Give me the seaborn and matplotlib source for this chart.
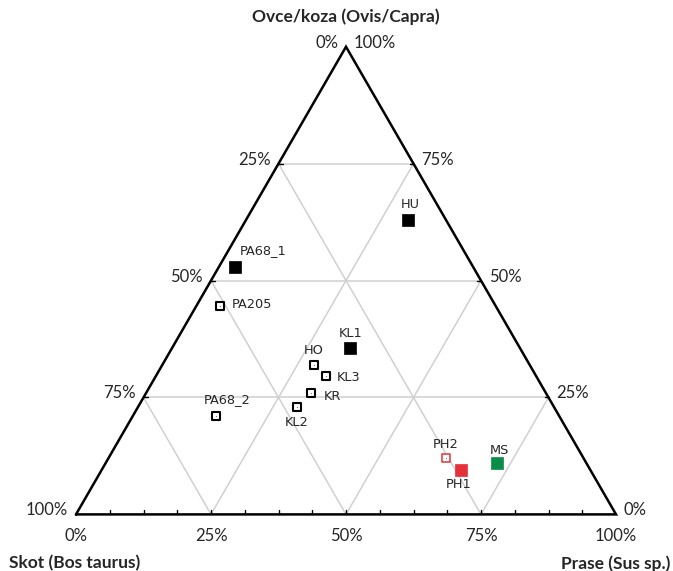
import numpy as np
import pandas as pd
import matplotlib
matplotlib.use('Agg')
import matplotlib.pyplot as plt
import seaborn as sns

# --- data: fractions of cattle / sheep-goat / pig per site ---
sites = ['HU', 'PA68_1', 'PA205', 'KL1', 'HO', 'KL3', 'KR', 'KL2', 'PA68_2', 'PH2', 'PH1', 'MS']
skot = [0.07, 0.44, 0.51, 0.315, 0.40, 0.39, 0.435, 0.475, 0.635, 0.255, 0.24, 0.165]
ovce = [0.63, 0.53, 0.445, 0.355, 0.32, 0.295, 0.26, 0.23, 0.21, 0.12, 0.095, 0.11]
prase = [0.30, 0.03, 0.045, 0.33, 0.28, 0.315, 0.305, 0.295, 0.155, 0.625, 0.665, 0.725]
groups = ['filled', 'filled', 'open', 'filled', 'open', 'open', 'open', 'open', 'open',
          'red_open', 'red', 'green']

ticks = [0, 0.25, 0.5, 0.75, 1.0]
tick_labels = ['0%', '25%', '50%', '75%', '100%']

# label offsets in pixels (dx, dy, ha) relative to marker
label_pos = {
    'HU': (2, 15, 'center'), 'PA68_1': (4, 16, 'left'), 'PA205': (11, 2, 'left'),
    'KL1': (1, 15, 'center'), 'HO': (0, 14, 'center'), 'KL3': (11, -1, 'left'),
    'KR': (13, -4, 'left'), 'KL2': (-1, -16, 'center'), 'PA68_2': (11, 17, 'center'),
    'PH2': (0, 14, 'center'), 'PH1': (-2, -15, 'center'), 'MS': (2, 12, 'center'),
}

H = np.sqrt(3) / 2


def to_xy(p, s):
    p = np.asarray(p, dtype=float)
    s = np.asarray(s, dtype=float)
    return p + s / 2, s * H


df = pd.DataFrame({'site': sites, 'skot': skot, 'ovce': ovce, 'prase': prase, 'group': groups})
df['x'], df['y'] = to_xy(df['prase'], df['ovce'])

sns.set_style('white')
plt.rcParams['font.family'] = ['Lato', 'DejaVu Sans']

fig = plt.figure(figsize=(6.73, 5.71), dpi=100)
ax = fig.add_axes([0, 0, 1, 1])
scale = 540.0
ax.set_xlim(-76 / scale, (673 - 76) / scale)
ax.set_ylim(-56.6 / scale, (571 - 56.6) / scale)
ax.axis('off')

# grid lines
grid_c = '#d0d0d0'
for k in [0.25, 0.5, 0.75]:
    # constant sheep
    x, y = to_xy([0, 1 - k], [k, k])
    ax.plot(x, y, color=grid_c, lw=1.1, zorder=1)
    # constant pig
    x, y = to_xy([k, k], [0, 1 - k])
    ax.plot(x, y, color=grid_c, lw=1.1, zorder=1)
    # constant cattle
    x, y = to_xy([1 - k, 0], [0, 1 - k])
    ax.plot(x, y, color=grid_c, lw=1.1, zorder=1)

# triangle
tx, ty = to_xy([0, 1, 0, 0], [0, 0, 1, 0])
ax.plot(tx, ty, color='black', lw=1.8, zorder=2, solid_joinstyle='miter')

# bottom ticks (major + minor)
tl = 4 / scale
for v in np.arange(0, 1.0001, 0.0625):
    if 0 < v < 1:
        ax.plot([v, v], [0, tl], color='black', lw=1, zorder=2)
# small ticks on side edges at majors
for k in [0.25, 0.5, 0.75]:
    x, y = to_xy(0, k)
    ax.plot([x, x + tl], [y, y], color='black', lw=1, zorder=2)
    x, y = to_xy(1 - k, k)
    ax.plot([x, x - tl], [y, y], color='black', lw=1, zorder=2)

px = 1 / scale
fs_tick = 12
# bottom labels: pig fraction
for v, lab in zip(ticks, tick_labels):
    ax.text(v, -22 * px, lab, ha='center', va='center', fontsize=fs_tick)
# left edge labels: cattle fraction (100% at bottom-left)
for v, lab in zip(ticks, tick_labels):
    x, y = to_xy(0, 1 - v)
    ax.text(x - 8 * px, y + 4 * px, lab, ha='right', va='center', fontsize=fs_tick)
# right edge labels: sheep fraction
for v, lab in zip(ticks, tick_labels):
    x, y = to_xy(1 - v, v)
    ax.text(x + 8 * px, y + 4 * px, lab, ha='left', va='center', fontsize=fs_tick)

# axis titles
ax.text(0.5, H + 30 * px, 'Ovce/koza (Ovis/Capra)', ha='center', va='center',
        fontsize=12.5, fontweight='bold')
ax.text((9 - 76) * px, -49 * px, 'Skot (Bos taurus)', ha='left', va='center',
        fontsize=12.5, fontweight='bold')
ax.text((670 - 76) * px, -49 * px, 'Prase (Sus sp.)', ha='right', va='center',
        fontsize=12.5, fontweight='bold')

# points
styles = {
    'filled': dict(s=80, color='black', edgecolor='black', linewidth=0.5),
    'open': dict(s=40, color='white', edgecolor='black', linewidth=1.5),
    'red_open': dict(s=32, color='white', edgecolor='#e5323a', linewidth=1.1),
    'red': dict(s=75, color='#e5323a', edgecolor='#e5323a', linewidth=0.5),
    'green': dict(s=75, color='#0a8d48', edgecolor='#0a8d48', linewidth=0.5),
}
for g, kw in styles.items():
    sub = df[df['group'] == g]
    sns.scatterplot(data=sub, x='x', y='y', marker='s', ax=ax, zorder=4, legend=False, **kw)
    if g in ('open', 'red_open'):
        sns.scatterplot(data=sub, x='x', y='y', marker='.', s=3, color='#6a6aa0',
                        linewidth=0, ax=ax, zorder=5, legend=False)

for _, r in df.iterrows():
    dx, dy, ha = label_pos[r['site']]
    ax.text(r['x'] + dx * px, r['y'] + dy * px, r['site'], ha=ha, va='center',
            fontsize=9.3, family=['DejaVu Sans'], zorder=6)

fig.savefig('out.png', dpi=100)
